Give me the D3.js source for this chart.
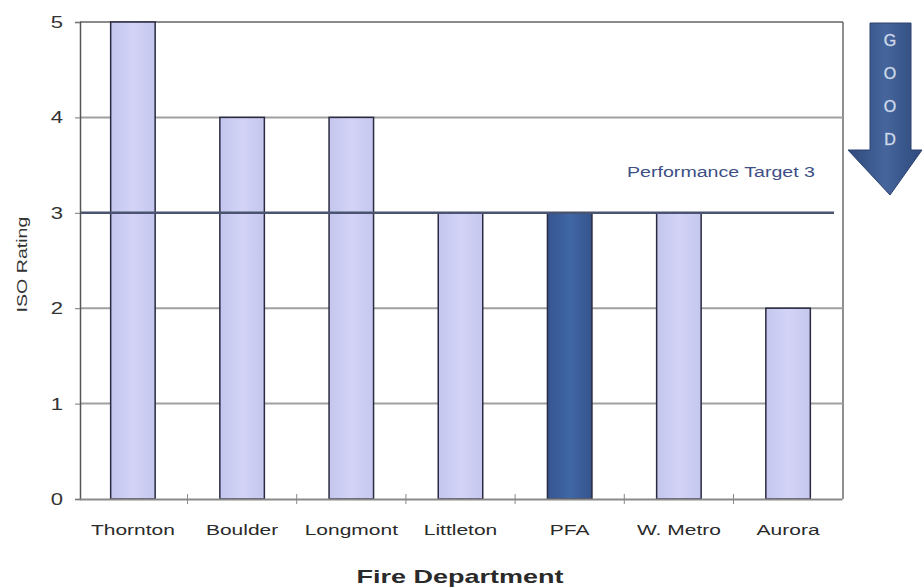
<!DOCTYPE html>
<html>
<head>
<meta charset="utf-8">
<script src="https://cdn.jsdelivr.net/npm/d3@7"></script>
<style>
  html, body { margin: 0; padding: 0; background: #fff; }
  svg { display: block; font-family: "Liberation Sans", Arial, sans-serif; }
</style>
</head>
<body>
<svg id="chart" width="922" height="588"></svg>
<script>
// ISO ratings by fire department (lower is better)
const departments = ["Thornton", "Boulder", "Longmont", "Littleton", "PFA", "W. Metro", "Aurora"];
const isoRatings = [5, 4, 4, 3, 3, 3, 2];
const highlighted = ["PFA"];
const yTicks = [0, 1, 2, 3, 4, 5];
const gridValues = [1, 2, 4];
const targetValue = 3;
const targetLabel = "Performance Target 3";
const arrowLetters = ["G", "O", "O", "D"];

const svg = d3.select("#chart");
const W = 922, H = 588;
const plot = { left: 80, right: 843, top: 22, bottom: 499 };
const wide = 1.4; // horizontal stretch of the wide sans lettering

const x = d3.scaleBand()
  .domain(departments)
  .range([plot.left - 1, plot.right - 1])
  .paddingInner(0.5925)
  .paddingOuter(0.29);

const y = d3.scaleLinear()
  .domain([0, 5])
  .range([plot.bottom, plot.top]);

const data = departments.map((d, i) => ({ name: d, value: isoRatings[i] }));

// gradients
const defs = svg.append("defs");
const light = defs.append("linearGradient").attr("id", "lightBar").attr("x1", 0).attr("x2", 1);
light.append("stop").attr("offset", "0%").attr("stop-color", "#c4c6ee");
light.append("stop").attr("offset", "50%").attr("stop-color", "#d2d3f6");
light.append("stop").attr("offset", "100%").attr("stop-color", "#c6c7ee");
const dark = defs.append("linearGradient").attr("id", "darkBar").attr("x1", 0).attr("x2", 1);
dark.append("stop").attr("offset", "0%").attr("stop-color", "#35558f");
dark.append("stop").attr("offset", "50%").attr("stop-color", "#4067a6");
dark.append("stop").attr("offset", "100%").attr("stop-color", "#36548c");
const arrowGrad = defs.append("linearGradient").attr("id", "arrowGrad").attr("x1", 0).attr("x2", 1);
arrowGrad.append("stop").attr("offset", "0%").attr("stop-color", "#2f4a7c");
arrowGrad.append("stop").attr("offset", "50%").attr("stop-color", "#45659c");
arrowGrad.append("stop").attr("offset", "100%").attr("stop-color", "#2f4a7c");

// plot frame: top and right borders
svg.append("line")
  .attr("x1", plot.left).attr("x2", plot.right)
  .attr("y1", y(5)).attr("y2", y(5))
  .attr("stroke", "#8a8a8a").attr("stroke-width", 2);
svg.append("line")
  .attr("x1", plot.right).attr("x2", plot.right)
  .attr("y1", y(5)).attr("y2", y(0))
  .attr("stroke", "#6a6a6a").attr("stroke-width", 1.5);

// gridlines
svg.append("g").selectAll("line").data(gridValues).join("line")
  .attr("x1", plot.left).attr("x2", plot.right)
  .attr("y1", d => y(d)).attr("y2", d => y(d))
  .attr("stroke", "#a0a0a0").attr("stroke-width", 2);

// bars
svg.append("g").selectAll("rect").data(data).join("rect")
  .attr("x", d => x(d.name))
  .attr("y", d => y(d.value))
  .attr("width", x.bandwidth())
  .attr("height", d => y(0) - y(d.value))
  .attr("fill", d => highlighted.includes(d.name) ? "url(#darkBar)" : "url(#lightBar)")
  .attr("stroke", "#2a2a40")
  .attr("stroke-width", 1.5);

// target line
svg.append("line")
  .attr("x1", plot.left).attr("x2", plot.right - 9)
  .attr("y1", y(targetValue)).attr("y2", y(targetValue))
  .attr("stroke", "#4a5470").attr("stroke-width", 2.5);
svg.append("text")
  .attr("transform", `translate(815,${y(targetValue) - 36}) scale(${wide},1)`)
  .attr("text-anchor", "end")
  .attr("font-size", 14)
  .attr("fill", "#3d4f86")
  .text(targetLabel);

// y axis
const yAxis = d3.axisLeft(y).tickValues(yTicks).tickSize(5).tickPadding(8).tickFormat(d3.format("d"));
const gy = svg.append("g").attr("transform", `translate(${plot.left},0)`).call(yAxis);
gy.select(".domain").attr("stroke", "#555").attr("stroke-width", 1.5);
gy.selectAll(".tick line").attr("stroke", "#777");
gy.selectAll(".tick text")
  .attr("transform", "scale(1.3,1)")
  .attr("font-size", 17).attr("fill", "#333")
  .attr("font-family", "'Liberation Sans', Arial, sans-serif");

// x axis
const xAxis = d3.axisBottom(x).tickSize(0).tickPadding(25);
const gx = svg.append("g").attr("transform", `translate(0,${y(0)})`).call(xAxis);
gx.select(".domain").attr("stroke", "#8a8a8a").attr("stroke-width", 2);
gx.selectAll(".tick text")
  .attr("transform", `scale(${wide},1)`)
  .attr("font-size", 15).attr("fill", "#2a2a2a")
  .attr("font-family", "'Liberation Sans', Arial, sans-serif");
// category separator ticks
const gap = (x.step() - x.bandwidth()) / 2;
gx.append("g").selectAll("line").data(departments.slice(1)).join("line")
  .attr("x1", d => x(d) - gap)
  .attr("x2", d => x(d) - gap)
  .attr("y1", -5).attr("y2", 5)
  .attr("stroke", "#888").attr("stroke-width", 1);

// axis titles
svg.append("text")
  .attr("transform", `translate(27,${(y(0) + y(5)) / 2 + 4}) rotate(-90) scale(${wide},1)`)
  .attr("text-anchor", "middle")
  .attr("font-size", 14)
  .attr("fill", "#333")
  .text("ISO Rating");
svg.append("text")
  .attr("transform", `translate(460,583) scale(1.5,1)`)
  .attr("text-anchor", "middle")
  .attr("font-size", 18)
  .attr("font-weight", "bold")
  .attr("fill", "#2a2a2a")
  .text("Fire Department");

// "GOOD" arrow pointing down
const arrow = svg.append("g");
const ax = 890;
arrow.append("path")
  .attr("d", `M870,23 L911,23 L911,150 L922,150 L${ax},195 L848,150 L870,150 Z`)
  .attr("fill", "url(#arrowGrad)")
  .attr("stroke", "#2c4370").attr("stroke-width", 1);
arrow.selectAll("text").data(arrowLetters).join("text")
  .attr("x", ax)
  .attr("y", (d, i) => 46 + i * 33)
  .attr("text-anchor", "middle")
  .attr("font-size", 16)
  .attr("fill", "#e4eaf5")
  .attr("stroke", "#a8bbdc")
  .attr("stroke-width", 0.5)
  .text(d => d);
</script>
</body>
</html>
